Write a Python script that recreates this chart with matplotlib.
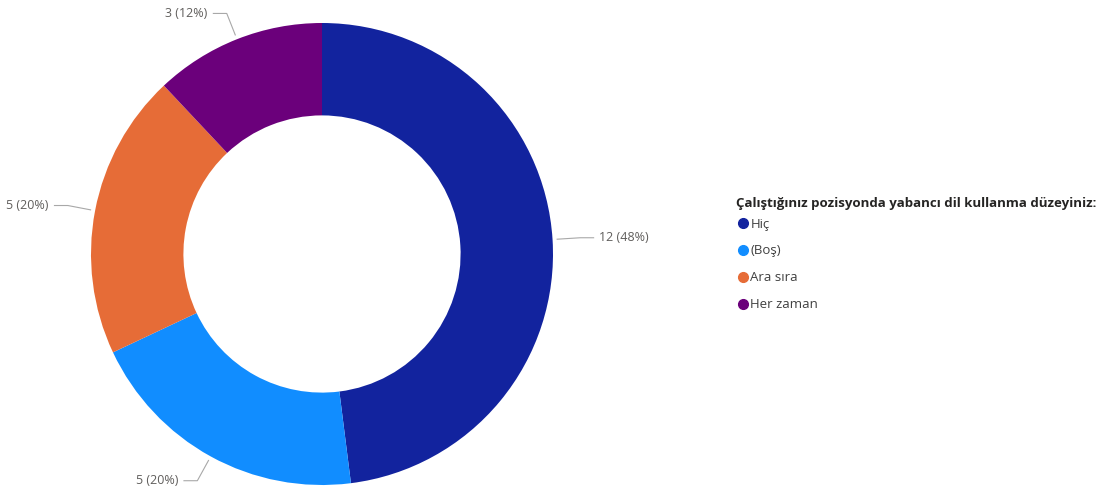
import numpy as np
import matplotlib.pyplot as plt
from matplotlib.lines import Line2D

plt.rcParams['font.family'] = ['Open Sans', 'DejaVu Sans']

# data
categories = ['Hiç', '(Boş)', 'Ara sıra', 'Her zaman']
counts = [12, 5, 5, 3]
colors = ['#12239E', '#118DFF', '#E66C37', '#6B007B']
legend_title = 'Çalıştığınız pozisyonda yabancı dil kullanma düzeyiniz:'

fig = plt.figure(figsize=(11.1, 4.93), dpi=100)
ax = fig.add_axes([91 / 1110, 8 / 493, 462 / 1110, 462 / 493])

wedges, _ = ax.pie(counts, colors=colors, startangle=90, counterclock=False,
                   radius=1.0, wedgeprops=dict(width=0.4, linewidth=0))
ax.set_xlim(-1, 1)
ax.set_ylim(-1, 1)
ax.set_aspect('equal')
ax.axis('off')

total = sum(counts)
for w, c in zip(wedges, counts):
    ang = np.radians((w.theta1 + w.theta2) / 2)
    ca, sa = np.cos(ang), np.sin(ang)
    x0, y0 = 1.02 * ca, 1.02 * sa
    x1, y1 = 1.12 * ca, 1.12 * sa
    side = 1 if ca >= 0 else -1
    x2 = x1 + side * 0.058
    ax.plot([x0, x1, x2], [y0, y1, y1], color='#A8A8A8', lw=0.8, clip_on=False)
    ax.text(x2 + side * 0.025, y1, f'{c} ({round(100 * c / total)}%)',
            ha='left' if side > 0 else 'right', va='center',
            fontsize=9, color='#605E5C', clip_on=False)

# legend title drawn separately so the gap to the first row matches
fig.text(736 / 1110, 1 - 203 / 493, legend_title, ha='left', va='center',
         fontsize=9.5, fontweight='bold', color='#252423')

handles = [Line2D([0], [0], marker='o', linestyle='', markersize=7,
                  markerfacecolor=col, markeredgecolor=col) for col in colors]
leg = ax.legend(handles, categories,
                loc='upper left', bbox_to_anchor=(732 / 1110, 1 - 211 / 493),
                bbox_transform=fig.transFigure, frameon=False, borderpad=0,
                handlelength=0.6, handletextpad=0.3, labelspacing=1.05,
                fontsize=9.5)
for t in leg.get_texts():
    t.set_color('#404040')

fig.savefig('out.png', dpi=100)
